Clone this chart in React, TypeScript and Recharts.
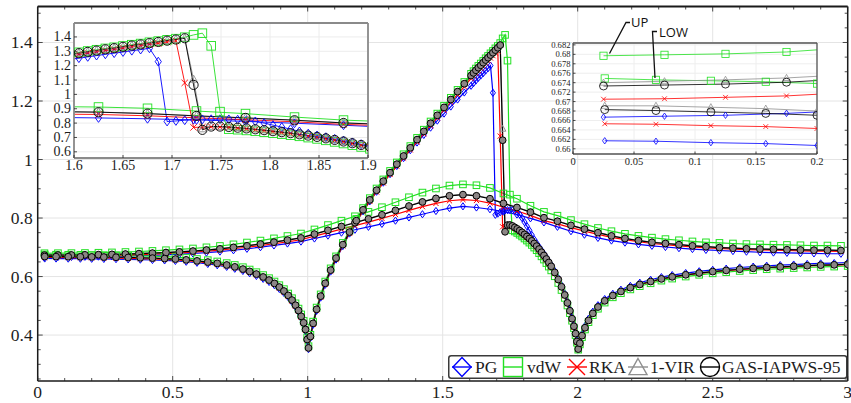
import React from "react";
import {
  CartesianGrid,
  Legend,
  Line,
  LineChart,
  ReferenceLine,
  XAxis,
  YAxis,
} from "recharts";

// ---------- data ----------

// upper branch, sparse markers
const upX = [
  0.025, 0.075, 0.125, 0.175, 0.225, 0.275, 0.325, 0.375, 0.425, 0.475,
  0.525, 0.575, 0.625, 0.675, 0.725, 0.775, 0.825, 0.875, 0.925, 0.975,
  1.025, 1.075, 1.125, 1.175, 1.225, 1.275, 1.325, 1.375, 1.425, 1.475,
  1.525, 1.575, 1.625, 1.675, 1.725, 1.775, 1.825, 1.875, 1.925, 1.975,
  2.025, 2.075, 2.125, 2.175, 2.225, 2.275, 2.325, 2.375, 2.425, 2.475,
  2.525, 2.575, 2.625, 2.675, 2.725, 2.775, 2.825, 2.875, 2.925, 2.975,
];

const pgUp = [
  0.6667, 0.6669, 0.6671, 0.6675, 0.6681, 0.6689, 0.6699, 0.6712, 0.6727, 0.6744,
  0.6764, 0.6787, 0.6818, 0.6853, 0.6898, 0.6948, 0.7003, 0.7063, 0.7128, 0.7195,
  0.73, 0.74, 0.75, 0.76, 0.77, 0.78, 0.791, 0.802, 0.813, 0.824,
  0.834, 0.84, 0.836, 0.83, 0.822, 0.812, 0.799, 0.785, 0.77, 0.755,
  0.743, 0.732, 0.723, 0.716, 0.71, 0.705, 0.701, 0.697, 0.694, 0.691,
  0.689, 0.687, 0.685, 0.683, 0.682, 0.681, 0.68, 0.679, 0.678, 0.678,
];
const vdwUp = [
  0.6797, 0.6799, 0.6801, 0.6805, 0.6814, 0.6825, 0.6839, 0.6856, 0.6876, 0.69,
  0.6927, 0.6959, 0.6999, 0.7045, 0.7101, 0.7163, 0.723, 0.7305, 0.7385, 0.747,
  0.761, 0.776, 0.791, 0.806, 0.821, 0.837, 0.854, 0.871, 0.887, 0.901,
  0.911, 0.915, 0.912, 0.903, 0.884, 0.866, 0.842, 0.821, 0.808, 0.793,
  0.779, 0.766, 0.755, 0.746, 0.739, 0.733, 0.728, 0.724, 0.72, 0.717,
  0.715, 0.713, 0.711, 0.71, 0.709, 0.708, 0.707, 0.706, 0.706, 0.705,
];
const rkaUp = [
  0.6705, 0.6706, 0.6709, 0.6712, 0.6719, 0.6727, 0.6738, 0.6751, 0.6767, 0.6785,
  0.6807, 0.6832, 0.6864, 0.6902, 0.695, 0.7002, 0.7059, 0.7121, 0.7187, 0.7258,
  0.738, 0.75, 0.762, 0.774, 0.786, 0.799, 0.812, 0.826, 0.839, 0.85,
  0.859, 0.863, 0.86, 0.851, 0.837, 0.824, 0.809, 0.791, 0.78, 0.767,
  0.755, 0.744, 0.734, 0.726, 0.719, 0.713, 0.709, 0.705, 0.701, 0.698,
  0.696, 0.694, 0.692, 0.691, 0.69, 0.689, 0.688, 0.687, 0.687, 0.686,
];
const virUp = [
  0.674, 0.6743, 0.6746, 0.675, 0.6757, 0.6766, 0.6778, 0.6792, 0.6809, 0.6829,
  0.6852, 0.6879, 0.6914, 0.6954, 0.7004, 0.7059, 0.7119, 0.7184, 0.7254, 0.7329,
  0.746, 0.759, 0.772, 0.785, 0.798, 0.812, 0.827, 0.842, 0.856, 0.868,
  0.877, 0.881, 0.877, 0.867, 0.851, 0.837, 0.821, 0.802, 0.79, 0.776,
  0.763, 0.751, 0.74, 0.731, 0.724, 0.718, 0.714, 0.71, 0.706, 0.703,
  0.7, 0.698, 0.696, 0.695, 0.694, 0.693, 0.692, 0.691, 0.691, 0.69,
];
const gasUp = [
  0.6733, 0.6735, 0.6737, 0.6741, 0.6748, 0.6757, 0.6769, 0.6783, 0.68, 0.682,
  0.6843, 0.687, 0.6905, 0.6945, 0.6995, 0.705, 0.711, 0.7175, 0.7245, 0.732,
  0.745, 0.758, 0.771, 0.784, 0.797, 0.811, 0.826, 0.841, 0.855, 0.867,
  0.876, 0.88, 0.876, 0.866, 0.85, 0.836, 0.82, 0.801, 0.789, 0.775,
  0.762, 0.75, 0.739, 0.73, 0.723, 0.717, 0.713, 0.709, 0.705, 0.702,
  0.699, 0.697, 0.695, 0.694, 0.693, 0.692, 0.691, 0.69, 0.69, 0.689,
];

// lower branch, dense markers near the cusps and the jump
const lowX = [
  0.026, 0.068, 0.113, 0.158, 0.2, 0.245, 0.29, 0.335, 0.38, 0.425, 0.47, 0.51, 0.55, 0.59,
  0.63, 0.665, 0.7, 0.73, 0.76, 0.785, 0.81, 0.835, 0.857, 0.877, 0.895, 0.912, 0.928, 0.942, 0.955, 0.966, 0.976, 0.985, 0.992, 0.998,
  1.003, 1.01, 1.02, 1.033, 1.048, 1.065, 1.085, 1.105, 1.13, 1.155, 1.18, 1.205, 1.23, 1.255, 1.28, 1.305, 1.33, 1.355, 1.38, 1.405, 1.43, 1.455, 1.48, 1.505, 1.53, 1.555, 1.58,
  1.605, 1.614, 1.623, 1.632, 1.641, 1.65, 1.659, 1.668, 1.677, 1.686, 1.695, 1.704, 1.713, 1.722, 1.731, 1.74, 1.749, 1.758, 1.767, 1.776, 1.785, 1.794, 1.803, 1.812, 1.821, 1.83, 1.839, 1.848, 1.857, 1.866, 1.875, 1.884, 1.893, 1.902,
  1.915, 1.928, 1.94, 1.952, 1.962, 1.971, 1.979, 1.986, 1.992, 1.997,
  2.002, 2.008, 2.016, 2.027, 2.04, 2.056, 2.075, 2.1, 2.13, 2.16, 2.195, 2.23, 2.27, 2.31, 2.35, 2.4, 2.45, 2.5, 2.55, 2.6, 2.65, 2.7, 2.75, 2.8, 2.85, 2.9, 2.95, 3,
];

const pgLow = [
  0.6617, 0.6616, 0.6613, 0.6611, 0.6607, 0.6602, 0.6596, 0.6588, 0.6578, 0.6566, 0.6551, 0.6534, 0.6506, 0.6471,
  0.6431, 0.6386, 0.6331, 0.6266, 0.6191, 0.6111, 0.6021, 0.5921, 0.5816, 0.5701, 0.5576, 0.5441, 0.5291, 0.5131, 0.4956, 0.4776, 0.4576, 0.4356, 0.4126, 0.379,
  0.352, 0.39, 0.435, 0.483, 0.528, 0.572, 0.617, 0.658, 0.704, 0.747, 0.786, 0.823, 0.857, 0.89, 0.921, 0.95, 0.978, 1.005, 1.032, 1.058, 1.084, 1.109, 1.133, 1.157, 1.181, 1.205, 1.229,
  1.252, 1.261, 1.27, 1.279, 1.287, 1.295, 1.304, 1.312, 1.321, 1.228, 0.811, 0.815, 0.82, 0.824, 0.826, 0.827, 0.827, 0.826, 0.824, 0.82, 0.812, 0.8, 0.786, 0.772, 0.758, 0.742, 0.727, 0.714, 0.702, 0.69, 0.678, 0.666, 0.653, 0.64,
  0.619, 0.595, 0.57, 0.542, 0.515, 0.488, 0.461, 0.435, 0.41, 0.382,
  0.355, 0.377, 0.404, 0.431, 0.456, 0.48, 0.502, 0.523, 0.541, 0.555, 0.568, 0.579, 0.589, 0.598, 0.605, 0.612, 0.618, 0.623, 0.627, 0.631, 0.634, 0.637, 0.639, 0.641, 0.643, 0.645, 0.646, 0.648,
];
const vdwLow = [
  0.6749, 0.6746, 0.6744, 0.6742, 0.6738, 0.6732, 0.6726, 0.6718, 0.6708, 0.6696, 0.6681, 0.6664, 0.6636, 0.66,
  0.656, 0.6515, 0.646, 0.6395, 0.632, 0.624, 0.615, 0.605, 0.5945, 0.583, 0.5705, 0.557, 0.542, 0.526, 0.5085, 0.4905, 0.4705, 0.4485, 0.4255, 0.392,
  0.362, 0.401, 0.446, 0.494, 0.539, 0.583, 0.628, 0.669, 0.715, 0.758, 0.797, 0.834, 0.868, 0.901, 0.932, 0.961, 0.99, 1.018, 1.046, 1.074, 1.102, 1.13, 1.157, 1.184, 1.211, 1.238, 1.265,
  1.293, 1.302, 1.311, 1.32, 1.328, 1.337, 1.346, 1.354, 1.363, 1.371, 1.38, 1.388, 1.398, 1.414, 1.426, 1.338, 0.88, 0.758, 0.754, 0.749, 0.743, 0.737, 0.73, 0.723, 0.716, 0.708, 0.699, 0.69, 0.68, 0.669, 0.658, 0.646, 0.634, 0.621,
  0.601, 0.578, 0.554, 0.527, 0.501, 0.475, 0.449, 0.424, 0.4, 0.374,
  0.35, 0.368, 0.393, 0.419, 0.444, 0.468, 0.49, 0.511, 0.529, 0.543, 0.556, 0.567, 0.577, 0.586, 0.593, 0.6, 0.606, 0.611, 0.615, 0.619, 0.622, 0.625, 0.627, 0.629, 0.631, 0.633, 0.634, 0.636,
];
const rkaLow = [
  0.6653, 0.6652, 0.6649, 0.6647, 0.6643, 0.6638, 0.6632, 0.6624, 0.6614, 0.6602, 0.6587, 0.657, 0.6542, 0.6507,
  0.6467, 0.6422, 0.6367, 0.6302, 0.6227, 0.6147, 0.6057, 0.5957, 0.5852, 0.5737, 0.5612, 0.5477, 0.5327, 0.5167, 0.4992, 0.4812, 0.4612, 0.4392, 0.4162, 0.3822,
  0.354, 0.392, 0.437, 0.485, 0.53, 0.574, 0.619, 0.659, 0.705, 0.748, 0.786, 0.823, 0.857, 0.889, 0.92, 0.949, 0.977, 1.005, 1.033, 1.06, 1.088, 1.115, 1.142, 1.169, 1.196, 1.222, 1.249,
  1.277, 1.286, 1.295, 1.304, 1.312, 1.321, 1.33, 1.338, 1.347, 1.355, 1.364, 1.372, 1.08, 0.77, 0.772, 0.774, 0.773, 0.77, 0.765, 0.76, 0.754, 0.748, 0.741, 0.734, 0.727, 0.719, 0.71, 0.701, 0.691, 0.68, 0.669, 0.657, 0.645, 0.632,
  0.611, 0.587, 0.562, 0.534, 0.507, 0.48, 0.453, 0.427, 0.402, 0.376,
  0.351, 0.371, 0.397, 0.424, 0.449, 0.473, 0.495, 0.516, 0.534, 0.548, 0.561, 0.572, 0.582, 0.591, 0.598, 0.605, 0.611, 0.616, 0.62, 0.624, 0.627, 0.63, 0.632, 0.634, 0.636, 0.638, 0.639, 0.641,
];
const virLow = [
  0.6691, 0.6691, 0.6688, 0.6685, 0.668, 0.6674, 0.6668, 0.666, 0.665, 0.6638, 0.6623, 0.6606, 0.6578, 0.6543,
  0.6503, 0.6458, 0.6403, 0.6338, 0.6263, 0.6183, 0.6093, 0.5993, 0.5888, 0.5773, 0.5648, 0.5513, 0.5363, 0.5203, 0.5028, 0.4848, 0.4648, 0.4428, 0.4198, 0.3858,
  0.357, 0.396, 0.441, 0.489, 0.534, 0.578, 0.623, 0.664, 0.71, 0.753, 0.792, 0.829, 0.863, 0.896, 0.927, 0.956, 0.985, 1.013, 1.041, 1.069, 1.097, 1.125, 1.152, 1.179, 1.206, 1.233, 1.26,
  1.288, 1.297, 1.306, 1.315, 1.323, 1.332, 1.341, 1.349, 1.358, 1.366, 1.375, 1.383, 1.392, 1.105, 0.76, 0.777, 0.777, 0.774, 0.769, 0.764, 0.758, 0.752, 0.745, 0.738, 0.731, 0.723, 0.714, 0.705, 0.695, 0.684, 0.673, 0.661, 0.649, 0.636,
  0.615, 0.591, 0.566, 0.538, 0.511, 0.484, 0.457, 0.431, 0.406, 0.379,
  0.353, 0.373, 0.399, 0.426, 0.451, 0.475, 0.497, 0.518, 0.536, 0.55, 0.563, 0.574, 0.584, 0.593, 0.6, 0.607, 0.613, 0.618, 0.622, 0.626, 0.629, 0.632, 0.634, 0.636, 0.638, 0.64, 0.641, 0.643,
];
const gasLow = [
  0.6683, 0.6681, 0.6678, 0.6675, 0.6671, 0.6666, 0.666, 0.6652, 0.6642, 0.663, 0.6615, 0.6598, 0.657, 0.6535,
  0.6495, 0.645, 0.6395, 0.633, 0.6255, 0.6175, 0.6085, 0.5985, 0.588, 0.5765, 0.564, 0.5505, 0.5355, 0.5195, 0.502, 0.484, 0.464, 0.442, 0.419, 0.385,
  0.356, 0.395, 0.44, 0.488, 0.533, 0.577, 0.622, 0.663, 0.709, 0.752, 0.791, 0.828, 0.862, 0.895, 0.926, 0.955, 0.984, 1.012, 1.04, 1.068, 1.096, 1.124, 1.151, 1.178, 1.205, 1.232, 1.259,
  1.287, 1.296, 1.305, 1.314, 1.322, 1.331, 1.34, 1.348, 1.357, 1.365, 1.374, 1.382, 1.391, 1.066, 0.753, 0.776, 0.776, 0.773, 0.768, 0.763, 0.757, 0.751, 0.744, 0.737, 0.73, 0.722, 0.713, 0.704, 0.694, 0.683, 0.672, 0.66, 0.648, 0.635,
  0.614, 0.59, 0.565, 0.537, 0.51, 0.483, 0.456, 0.43, 0.405, 0.378,
  0.352, 0.372, 0.398, 0.425, 0.45, 0.474, 0.496, 0.517, 0.535, 0.549, 0.562, 0.573, 0.583, 0.592, 0.599, 0.606, 0.612, 0.617, 0.621, 0.625, 0.628, 0.631, 0.633, 0.635, 0.637, 0.639, 0.64, 0.642,
];

// ticks
const mainXTicks = [
  0, 0.1, 0.2, 0.3, 0.4, 0.5, 0.6, 0.7, 0.8, 0.9, 1, 1.1, 1.2, 1.3, 1.4, 1.5,
  1.6, 1.7, 1.8, 1.9, 2, 2.1, 2.2, 2.3, 2.4, 2.5, 2.6, 2.7, 2.8, 2.9, 3,
];
const mainXLabels = [0, 0.5, 1, 1.5, 2, 2.5, 3];
const mainYTicks = [
  0.25, 0.3, 0.35, 0.4, 0.45, 0.5, 0.55, 0.6, 0.65, 0.7, 0.75, 0.8, 0.85,
  0.9, 0.95, 1, 1.05, 1.1, 1.15, 1.2, 1.25, 1.3, 1.35, 1.4, 1.45, 1.5,
];
const mainYLabels = [0.4, 0.6, 0.8, 1, 1.2, 1.4];
const jumpXTicks = [1.6, 1.65, 1.7, 1.75, 1.8, 1.85, 1.9];
const jumpYTicks = [0.6, 0.7, 0.8, 0.9, 1, 1.1, 1.2, 1.3, 1.4];
const startXTicks = [0, 0.05, 0.1, 0.15, 0.2];
const startYTicks = [0.66, 0.662, 0.664, 0.666, 0.668, 0.67, 0.672, 0.674, 0.676, 0.678, 0.68, 0.682];

type Shape = "diamond" | "square" | "cross" | "triangle" | "circle";

const series: { name: string; color: string; shape: Shape; up: number[]; low: number[] }[] = [
  { name: "PG", color: "#0000ff", shape: "diamond", up: pgUp, low: pgLow },
  { name: "vdW", color: "#22e022", shape: "square", up: vdwUp, low: vdwLow },
  { name: "RKA", color: "#ff0000", shape: "cross", up: rkaUp, low: rkaLow },
  { name: "1-VIR", color: "#8f8f8f", shape: "triangle", up: virUp, low: virLow },
  { name: "GAS-IAPWS-95", color: "#000000", shape: "circle", up: gasUp, low: gasLow },
];

// ---------- layout ----------
const W = 851;
const H = 403;
const SERIF = "'Liberation Serif', 'DejaVu Serif', serif";

type Box = { left: number; right: number; top: number; bottom: number };
const mainBox: Box = { left: 37.7, right: 847.7, top: 6.5, bottom: 381 };
const jumpBox: Box = { left: 74, right: 368, top: 23, bottom: 158 };
const startBox: Box = { left: 573, right: 817, top: 43, bottom: 154 };

// axes get 1px of room (an axis with zero size is not drawn)
const margins = (b: Box) => ({ top: b.top, left: b.left - 1, right: W - b.right, bottom: H - b.bottom - 1 });

const zip = (xs: number[], ys: number[]) =>
  ys.map((y, i) => ({ x: xs[i], y })).filter((p) => p.x !== undefined);

function marker(shape: Shape, cx: number, cy: number, s: number, color: string, fill: string, sw: number, key?: any, aspect = 0.7) {
  switch (shape) {
    case "diamond":
      return (
        <polygon key={key} points={`${cx},${cy - s} ${cx + s * aspect},${cy} ${cx},${cy + s} ${cx - s * aspect},${cy}`}
          fill="none" stroke={color} strokeWidth={sw} />
      );
    case "square":
      return <rect key={key} x={cx - s} y={cy - s} width={2 * s} height={2 * s} fill="none" stroke={color} strokeWidth={sw} />;
    case "cross":
      return (
        <path key={key} d={`M${cx - s},${cy - s}L${cx + s},${cy + s}M${cx - s},${cy + s}L${cx + s},${cy - s}`}
          fill="none" stroke={color} strokeWidth={sw} />
      );
    case "triangle":
      return (
        <polygon key={key} points={`${cx},${cy - s} ${cx + s * 0.95},${cy + s * 0.7} ${cx - s * 0.95},${cy + s * 0.7}`}
          fill="none" stroke={color} strokeWidth={sw} />
      );
    default:
      return <circle key={key} cx={cx} cy={cy} r={s} fill={fill} stroke={color} strokeWidth={sw} />;
  }
}

type Look = { sizes: Record<Shape, number>; width: number; markerWidth: number; circleFill: string };

const mainLook: Look = {
  sizes: { diamond: 3.6, square: 3.3, cross: 2.6, triangle: 3.4, circle: 3.4 },
  width: 1.2,
  markerWidth: 1,
  circleFill: "#8c8585",
};
const jumpLook: Look = {
  sizes: { diamond: 4.4, square: 4.3, cross: 3.2, triangle: 4.2, circle: 4.6 },
  width: 0.9,
  markerWidth: 0.9,
  circleFill: "none",
};
const startLook: Look = {
  sizes: { diamond: 3.2, square: 3.6, cross: 2.4, triangle: 3.6, circle: 4 },
  width: 0.8,
  markerWidth: 0.8,
  circleFill: "none",
};

function seriesLines(look: Look, lo: number, hi: number) {
  const out: React.ReactNode[] = [];
  series.forEach((s) => {
    const parts: [string, number[], number[]][] = [
      ["up", upX, s.up],
      ["low", lowX, s.low],
    ];
    parts.forEach(([k, xs, ys]) => {
      const pts = zip(xs, ys).filter((p) => p.x >= lo && p.x <= hi);
      out.push(
        <Line
          key={s.name + k}
          name={s.name + k}
          data={pts}
          dataKey="y"
          type="linear"
          stroke={s.color}
          strokeWidth={look.width}
          legendType="none"
          activeDot={false}
          isAnimationActive={false}
          dot={(p: any) =>
            marker(s.shape, p.cx, p.cy, look.sizes[s.shape], s.color,
              s.shape === "circle" ? look.circleFill : "none", look.markerWidth, `${s.name}${k}${p.index}`)
          }
        />
      );
    });
  });
  return out;
}

const isMajor = (labels: number[], v: number) => labels.some((l) => Math.abs(l - v) < 1e-9);

function xTick(labels: number[], b: Box, font: number, gap: number, len: number, minor: number, mirror: boolean) {
  return (p: any) => {
    const x = p.x;
    const v = p.payload.value;
    const major = isMajor(labels, v);
    const l = major ? len : minor;
    return (
      <g>
        {l > 0 && <line x1={x} x2={x} y1={b.bottom} y2={b.bottom - l} stroke="#222" strokeWidth={0.8} />}
        {mirror && l > 0 && <line x1={x} x2={x} y1={b.top} y2={b.top + l} stroke="#222" strokeWidth={0.8} />}
        {major && (
          <text x={x} y={b.bottom + gap} textAnchor="middle" fontFamily={SERIF} fontSize={font} fill="#1c1c1c">
            {String(v)}
          </text>
        )}
      </g>
    );
  };
}

function yTick(labels: number[], b: Box, font: number, gap: number, shift: number, len: number, minor: number, mirror: boolean) {
  return (p: any) => {
    const y = p.y;
    const v = p.payload.value;
    const major = isMajor(labels, v);
    const l = major ? len : minor;
    return (
      <g>
        {l > 0 && <line x1={b.left} x2={b.left + l} y1={y} y2={y} stroke="#222" strokeWidth={0.8} />}
        {mirror && l > 0 && <line x1={b.right} x2={b.right - l} y1={y} y2={y} stroke="#222" strokeWidth={0.8} />}
        {major && (
          <text x={b.left - gap} y={y + shift} textAnchor="end" fontFamily={SERIF} fontSize={font} fill="#1c1c1c">
            {String(v)}
          </text>
        )}
      </g>
    );
  };
}

const legendIconX = [14, 65, 129, 190, 262];
const legendTextX = [27, 79, 141, 202, 274];

const legendContent = () => (
  <svg width={400} height={24} style={{ display: "block" }}>
    <rect x={0.75} y={0.75} width={398} height={22.5} rx={2.5} fill="#fff" stroke="#3a3a3a" strokeWidth={1.5} />
    {series.map((s, i) => (
      <g key={s.name}>
        <line x1={legendIconX[i] - 10} x2={legendIconX[i] + 10} y1={12} y2={12} stroke={s.color} strokeWidth={1.4} />
        {marker(s.shape, legendIconX[i], s.shape === "triangle" ? 13 : 12,
          s.shape === "cross" ? 8 : 9.5, s.color, "none", 1.4, undefined, 0.95)}
        <text x={legendTextX[i]} y={18} fontFamily={SERIF} fontSize={17.5} fill="#1c1c1c">
          {s.name}
        </text>
      </g>
    ))}
  </svg>
);

const layer: React.CSSProperties = { position: "absolute", left: 0, top: 0 };

export default function App() {
  return (
    <div style={{ position: "absolute", left: 0, top: 0, width: W, height: H, background: "#fff", overflow: "hidden" }}>
      <div style={layer}>
        <LineChart width={W} height={H} margin={margins(mainBox)}>
          <CartesianGrid stroke="#e4e4e4" horizontalValues={mainYLabels} verticalValues={mainXLabels} />
          <XAxis type="number" dataKey="x" domain={[0, 3]} ticks={mainXTicks} interval={0} height={1}
            tickLine={false} axisLine={{ stroke: "#1a1a1a", strokeWidth: 1.5 }} allowDataOverflow
            tick={xTick(mainXLabels, mainBox, 17.5, 16.5, 5, 3, true)} />
          <YAxis type="number" domain={[0.243, 1.523]} ticks={mainYTicks} interval={0} width={1}
            tickLine={false} axisLine={{ stroke: "#1a1a1a", strokeWidth: 1.5 }} allowDataOverflow
            tick={yTick(mainYLabels, mainBox, 17.5, 5, 6, 5, 3, true)} />
          <ReferenceLine y={1.523} stroke="#1a1a1a" strokeWidth={1.8} />
          <ReferenceLine x={3} stroke="#1a1a1a" strokeWidth={1.5} />
          {seriesLines(mainLook, 0, 3)}
          <Legend layout="horizontal" verticalAlign="middle" align="center" content={legendContent}
            wrapperStyle={{ left: 447.5, top: 354.5, width: 400, height: 24 }} />
        </LineChart>
      </div>

      <div style={layer}>
        <LineChart width={W} height={H} margin={margins(jumpBox)}>
          <CartesianGrid stroke="#ececec" fill="#fff" fillOpacity={1} />
          <XAxis type="number" dataKey="x" domain={[1.6, 1.9]} ticks={jumpXTicks} interval={0} height={1}
            tickLine={false} axisLine={false} allowDataOverflow
            tick={xTick(jumpXTicks, jumpBox, 14, 11.5, 3, 0, false)} />
          <YAxis type="number" domain={[0.557, 1.497]} ticks={jumpYTicks} interval={0} width={1}
            tickLine={false} axisLine={false} allowDataOverflow
            tick={yTick(jumpYTicks, jumpBox, 14, 3, 4.5, 3, 0, false)} />
          {seriesLines(jumpLook, 1.55, 1.95)}
          <ReferenceLine x={1.6} stroke="#8a8a8a" strokeWidth={1.8} />
          <ReferenceLine x={1.9} stroke="#8a8a8a" strokeWidth={1.8} />
          <ReferenceLine y={0.557} stroke="#8a8a8a" strokeWidth={1.8} />
          <ReferenceLine y={1.497} stroke="#8a8a8a" strokeWidth={1.8} />
        </LineChart>
      </div>

      <div style={layer}>
        <LineChart width={W} height={H} margin={margins(startBox)}>
          <CartesianGrid stroke="#eeeeee" fill="#fff" fillOpacity={1} />
          <XAxis type="number" dataKey="x" domain={[0, 0.2]} ticks={startXTicks} interval={0} height={1}
            tickLine={false} axisLine={false} allowDataOverflow
            tick={xTick(startXTicks, startBox, 10.5, 11.3, 2.5, 0, false)} />
          <YAxis type="number" domain={[0.6589, 0.6824]} ticks={startYTicks} interval={0} width={1}
            tickLine={false} axisLine={false} allowDataOverflow
            tick={yTick(startYTicks, startBox, 8.6, 2.5, 3, 2.5, 0, false)} />
          {seriesLines(startLook, -0.06, 0.26)}
          <ReferenceLine x={0} stroke="#555" strokeWidth={1.3} />
          <ReferenceLine x={0.2} stroke="#555" strokeWidth={1.3} />
          <ReferenceLine y={0.6589} stroke="#555" strokeWidth={1.3} />
          <ReferenceLine y={0.6824} stroke="#555" strokeWidth={1.3} />
        </LineChart>
      </div>

      <svg width={W} height={H} style={layer}>
        <polyline points="630,22.5 626,22.5 609.5,53.5" fill="none" stroke="#111" strokeWidth={1.3} />
        <polyline points="657,31.5 652.5,31.5 655,78" fill="none" stroke="#111" strokeWidth={1.3} />
        <text x={631} y={27} fontFamily="'Open Sans', 'DejaVu Sans', sans-serif" fontSize={13} fill="#111">UP</text>
        <text x={659} y={36.5} fontFamily="'Open Sans', 'DejaVu Sans', sans-serif" fontSize={13} fill="#111">LOW</text>
      </svg>
    </div>
  );
}
